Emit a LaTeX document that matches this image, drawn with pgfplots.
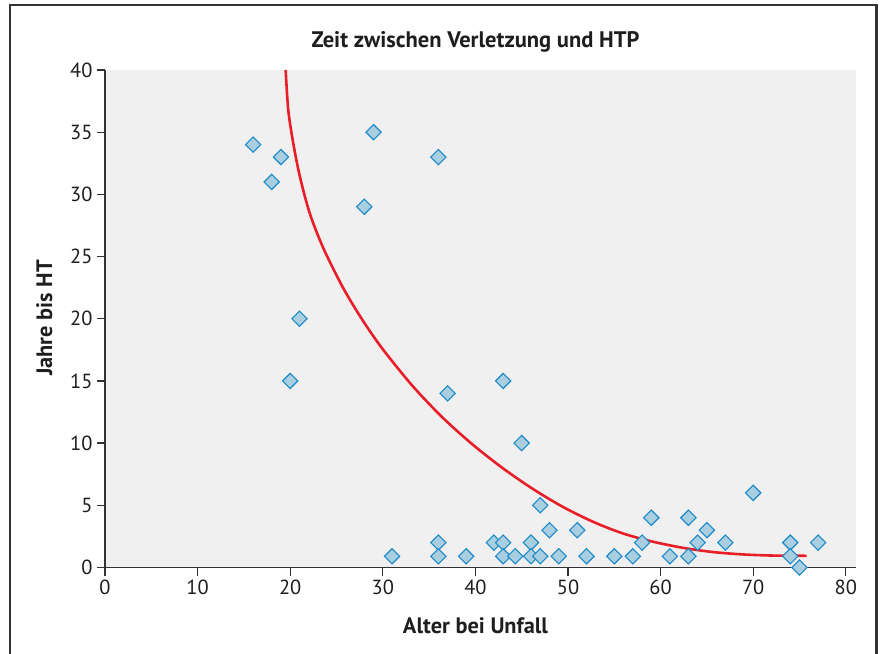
\documentclass[border=0pt]{standalone}
\usepackage{pgfplots}
\pgfplotsset{compat=1.18}
\usepackage{fontspec}
\setmainfont{PT Sans}
\definecolor{bgc}{RGB}{240,240,240}
\definecolor{axc}{RGB}{50,50,50}
\definecolor{txc}{RGB}{30,30,30}
\definecolor{mkfill}{RGB}{168,206,224}
\definecolor{mkedge}{RGB}{27,138,200}
\definecolor{fitred}{RGB}{232,30,40}
\begin{document}
\begin{tikzpicture}[x=1bp,y=1bp]
\path[use as bounding box] (0bp,0bp) rectangle (880bp,654bp);
\clip (0bp,0bp) rectangle (880bp,654bp);
\draw[line width=2.2bp, color=black!80] (10bp,-20bp) rectangle (876.5bp,649bp);
\begin{axis}[
  at={(105bp,86.5bp)}, anchor=south west,
  width=751bp, height=497.5bp, scale only axis,
  xmin=0, xmax=81.1, ymin=0, ymax=40,
  axis lines=left,
  axis line style={-, color=axc, line width=1.4bp},
  axis background/.style={fill=bgc},
  xtick={0,10,...,80}, ytick={0,5,...,40},
  tick align=outside,
  major tick length=8bp,
  tick style={color=axc, line width=1.3bp},
  /pgf/number format/assume math mode=true,
  tick label style={font=\fontsize{20.5}{22}\selectfont, text=txc},
  xticklabel style={yshift=-1bp},
  yticklabel style={xshift=-1bp},
  clip=false,
]
\addplot[only marks, mark=square*, mark size=5.4bp,
  mark options={rotate=45, fill=mkfill, draw=mkedge, line width=1.1bp}]
  coordinates {
  (16,34) (19,33) (18,31) (29,35) (36,33) (28,29) (21,20) (20,15)
  (37,14) (43,15) (45,10) (47,5) (48,3) (51,3) (59,4) (63,4) (65,3) (70,6)
  (36,2) (42,2) (43,2) (46,2) (58,2) (64,2) (67,2) (74,2) (77,2)
  (31,0.9) (36,0.9) (39,0.9) (43,0.9) (44.3,0.9) (46,0.9) (47,0.9) (49,0.9)
  (52,0.9) (55,0.9) (57,0.9) (61,0.9) (63,0.9) (74,0.9)
  (75,0)
  };
\addplot[smooth, color=fitred, line width=2.6bp] coordinates {
  (19.51,40.00) (19.79,36.78) (20.33,34.11) (21.05,31.42) (22.11,28.48)
  (23.57,25.69) (25.73,22.46) (27.89,19.80) (30.05,17.50) (33.28,14.54)
  (36.52,12.01) (39.76,9.85) (43.00,7.96) (46.24,6.30) (49.48,4.86)
  (52.72,3.67) (55.96,2.73) (59.20,2.07) (62.43,1.58) (65.67,1.24)
  (68.91,1.05) (72.15,0.96) (75.76,0.94)
  };
\end{axis}
\node[font=\bfseries\fontsize{22.6}{24}\selectfont, text=txc, anchor=base] at (475.5bp,606.7bp) {Zeit zwischen Verletzung und HTP};
\node[font=\bfseries\fontsize{22.4}{24}\selectfont, text=txc, anchor=base] at (475.5bp,20.7bp) {Alter bei Unfall};
\node[font=\bfseries\fontsize{22.4}{24}\selectfont, text=txc, rotate=90, anchor=base] at (52bp,336bp) {Jahre bis HT};
\end{tikzpicture}
\end{document}
